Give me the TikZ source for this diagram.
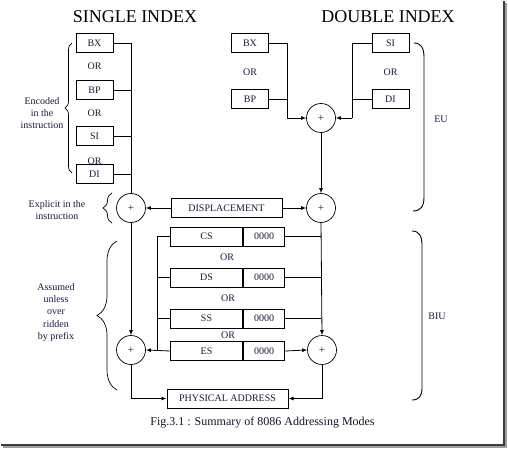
\documentclass[tikz,border=0pt]{standalone}
\usepackage{fontspec}
\setmainfont{Liberation Serif}
\usetikzlibrary{arrows.meta,decorations.pathreplacing}
\definecolor{txt}{RGB}{25,25,60}
\definecolor{shadow}{RGB}{60,60,60}
\begin{document}
\begin{tikzpicture}[x=1pt,y=-1pt,
  regbox/.style={draw,line width=1pt,minimum width=37pt,minimum height=19pt,inner sep=0pt,font=\fontsize{10}{10}\selectfont,text=txt},
  segbox/.style={draw,line width=1pt,minimum height=19pt,inner sep=0pt,font=\fontsize{10}{10}\selectfont,text=txt},
  adder/.style={draw,circle,line width=0.7pt,minimum size=29pt,inner sep=0pt,font=\fontsize{11}{11}\selectfont,text=txt},
  orlbl/.style={font=\fontsize{10}{10}\selectfont,text=txt,inner sep=0pt},
  note/.style={font=\fontsize{10}{12.3}\selectfont,text=txt,align=center,inner sep=0pt},
  title/.style={font=\fontsize{18}{20}\selectfont,inner sep=0pt},
  wire/.style={line width=0.8pt},
  arr/.style={wire,-{Latex[length=5pt,width=4pt]}},
  brc/.style={line width=0.7pt,decorate},
  bkt/.style={line width=0.9pt}]
\useasboundingbox (0,0) rectangle (508,449);
% frame shadow
\draw[shadow!50,line width=1.2pt] (506,3) -- (506,447) -- (3,447);
\draw[shadow,line width=1.6pt] (504,1) -- (504,445) -- (1,445);
% titles
\node[title] (t1) at (135,17) {SINGLE INDEX};
\node[title] (t2) at (388,17) {DOUBLE INDEX};
% single index registers
\node[regbox] (sbx) at (94.5,43.5) {BX};
\node[orlbl] (sor1) at (94.5,66) {OR};
\node[regbox] (sbp) at (94.5,90.5) {BP};
\node[orlbl] (sor2) at (94.5,113) {OR};
\node[regbox] (ssi) at (94.5,136.5) {SI};
\node[orlbl] (sor3) at (94.5,161) {OR};
\node[regbox] (sdi) at (94.5,174) {DI};
\draw[brc,decoration={brace,amplitude=7pt}] (72,173) -- (72,43);
\node[note] (enc) at (42,113) {Encoded\\in the\\instruction};
% adders
\node[adder] (a1) at (131,208) {+};
\node[adder] (a2) at (321,208) {+};
\node[adder] (a3) at (321,118) {+};
\node[adder] (a4) at (131,350) {+};
\node[adder] (a5) at (322,350) {+};
% single index wires
\coordinate (sv) at (131,43.5);
\draw[wire] (sbx.east) -- (sv) -- (a1.north);
\draw[wire] (sbp.east) -- (sbp.east -| sv);
\draw[wire] (ssi.east) -- (ssi.east -| sv);
\draw[wire] (sdi.east) -- (sdi.east -| sv);
% double index registers
\node[regbox] (dbx) at (250,43.5) {BX};
\node[orlbl] (dor1) at (250,72) {OR};
\node[regbox] (dbp) at (250,99.5) {BP};
\node[regbox] (dsi) at (390.5,43.5) {SI};
\node[orlbl] (dor2) at (390.5,72) {OR};
\node[regbox] (ddi) at (390.5,99.5) {DI};
\coordinate (dl) at (287,118);
\coordinate (dr) at (352,118);
\draw[wire] (dbx.east) -- (dbx.east -| dl) -- (dl);
\draw[wire] (dbp.east) -- (dbp.east -| dl);
\draw[arr] (dl) -- (a3.west);
\draw[wire] (dsi.west) -- (dsi.west -| dr) -- (dr);
\draw[wire] (ddi.west) -- (ddi.west -| dr);
\draw[arr] (dr) -- (a3.east);
\draw[arr] (a3.south) -- (a2.north);
% displacement
\node[segbox,minimum width=111pt] (disp) at (226.5,208) {DISPLACEMENT};
\draw[arr] (disp.west) -- (a1.east);
\draw[arr] (disp.east) -- (a2.west);
\draw[brc,decoration={brace,amplitude=9pt}] (112,223) -- (112,193);
\node[note] (expl) at (57,210) {Explicit in the\\instruction};
% segment registers
\foreach \n/\s/\y in {cs/CS/236.5,ds/DS/277.5,ss/SS/318.5,es/ES/351}{
  \node[segbox,minimum width=72pt,anchor=east] (\n) at (243,\y) {\s};
  \node[segbox,minimum width=41pt,anchor=west] (\n z) at (243,\y) {0000};
}
\node[orlbl] (gor1) at (227,257) {OR};
\node[orlbl] (gor2) at (228,298) {OR};
\node[orlbl] (gor3) at (228,335) {OR};
\coordinate (gl) at (157,236.5);
\draw[wire] (cs.west) -- (gl) -- (gl |- es.west);
\draw[wire] (ds.west) -- (ds.west -| gl);
\draw[wire] (ss.west) -- (ss.west -| gl);
\draw[arr] (es.west) -- (a4.east);
\draw[arr] (a1.south) -- (a4.north);
\draw[wire] (csz.east) -- (csz.east -| a2.south);
\draw[wire] (dsz.east) -- (dsz.east -| a2.south);
\draw[wire] (ssz.east) -- (ssz.east -| a2.south);
\draw[arr] (a2.south) -- (a5.north);
\draw[arr] (esz.east) -- (a5.west);
% physical address
\node[segbox,minimum width=121pt] (pa) at (227.5,398.5) {PHYSICAL ADDRESS};
\draw[arr] (a4.south) |- (pa.west);
\draw[arr] (a5.south) |- (pa.east);
% left BIU brace
\draw[brc,decoration={brace,amplitude=20pt}] (117,390) -- (117,241);
\node[note] (asm) at (56,312.5) {Assumed\\unless\\over\\ridden\\by prefix};
% right brackets
\draw[bkt] (414,43) .. controls (421,43) and (424,48) .. (424,57) -- (424,197) .. controls (424,206) and (421,211) .. (413,211);
\node[orlbl] (eu) at (441,119) {EU};
\draw[bkt] (412,231) .. controls (419,231) and (422,236) .. (422,245) -- (422,388) .. controls (422,396) and (419,400) .. (412,400);
\node[orlbl] (biu) at (437,316) {BIU};
% caption
\node[font=\fontsize{12}{12}\selectfont,text=txt!70!black,inner sep=0pt] (cap) at (262.5,423) {Fig.3.1 : Summary of 8086 Addressing Modes};
\end{tikzpicture}
\end{document}
